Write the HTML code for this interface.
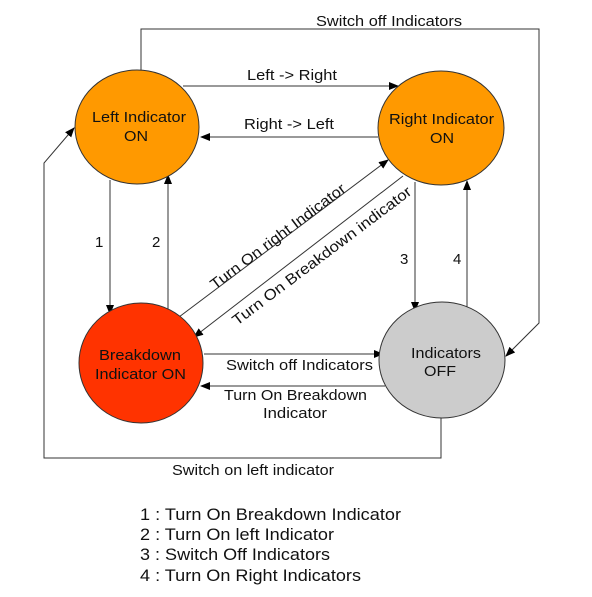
<!DOCTYPE html>
<html><head><style>body{margin:0;background:#fff}</style></head><body>
<svg width="592" height="592" xmlns="http://www.w3.org/2000/svg" font-family="Liberation Sans, sans-serif" fill="#111">
<defs><marker id="a" markerWidth="10" markerHeight="8" refX="9" refY="4" orient="auto" markerUnits="userSpaceOnUse"><path d="M0,0 L10,4 L0,8 Z" fill="#000"/></marker></defs>
<g stroke="#333" stroke-width="1" fill="none">
<polyline points="141,70 141,29 539,29 539,323 506,356" marker-end="url(#a)"/>
<line x1="183" y1="86" x2="398" y2="86" marker-end="url(#a)"/>
<line x1="378" y1="137" x2="201" y2="137" marker-end="url(#a)"/>
<line x1="110" y1="180" x2="110" y2="314" marker-end="url(#a)"/>
<line x1="168" y1="318" x2="168" y2="175" marker-end="url(#a)"/>
<line x1="415" y1="182" x2="415" y2="311" marker-end="url(#a)"/>
<line x1="467" y1="307" x2="467" y2="181" marker-end="url(#a)"/>
<line x1="179" y1="317" x2="388" y2="160" marker-end="url(#a)"/>
<line x1="403" y1="176" x2="194" y2="337" marker-end="url(#a)"/>
<line x1="204" y1="354" x2="383" y2="354" marker-end="url(#a)"/>
<line x1="385" y1="386" x2="201" y2="386" marker-end="url(#a)"/>
<polyline points="441,418 441,458 44,458 44,163 74,128" marker-end="url(#a)"/>
</g>
<ellipse cx="137" cy="127" rx="62" ry="57" fill="#ff9900" stroke="#333"/>
<ellipse cx="441" cy="128" rx="63" ry="57" fill="#ff9900" stroke="#333"/>
<ellipse cx="141" cy="363" rx="62" ry="60" fill="#ff3300" stroke="#333"/>
<ellipse cx="442" cy="360" rx="63" ry="58" fill="#cccccc" stroke="#333"/>
<g font-size="15">
<text x="92" y="122" textLength="94" lengthAdjust="spacingAndGlyphs">Left Indicator</text><text x="124" y="141" textLength="24" lengthAdjust="spacingAndGlyphs">ON</text>
<text x="389" y="124" textLength="105" lengthAdjust="spacingAndGlyphs">Right Indicator</text><text x="430" y="143" textLength="24" lengthAdjust="spacingAndGlyphs">ON</text>
<text x="99" y="360" textLength="82" lengthAdjust="spacingAndGlyphs">Breakdown</text><text x="95" y="379" textLength="91" lengthAdjust="spacingAndGlyphs">Indicator ON</text>
<text x="411" y="358" textLength="70" lengthAdjust="spacingAndGlyphs">Indicators</text><text x="424" y="376" textLength="32" lengthAdjust="spacingAndGlyphs">OFF</text>
<text x="316" y="26" textLength="146" lengthAdjust="spacingAndGlyphs">Switch off Indicators</text>
<text x="247" y="80" textLength="90" lengthAdjust="spacingAndGlyphs">Left -&gt; Right</text>
<text x="244" y="129" textLength="90" lengthAdjust="spacingAndGlyphs">Right -&gt; Left</text>
<text x="95" y="247">1</text><text x="152" y="247">2</text>
<text x="400" y="264">3</text><text x="453" y="264">4</text>
<text x="226" y="370" textLength="147" lengthAdjust="spacingAndGlyphs">Switch off Indicators</text>
<text x="224" y="400" textLength="143" lengthAdjust="spacingAndGlyphs">Turn On Breakdown</text><text x="263" y="418" textLength="64" lengthAdjust="spacingAndGlyphs">Indicator</text>
<text x="172" y="475" textLength="162" lengthAdjust="spacingAndGlyphs">Switch on left indicator</text>
<text transform="translate(215,290) rotate(-37)" textLength="165" lengthAdjust="spacingAndGlyphs">Turn On right Indicator</text>
<text transform="translate(237,326) rotate(-37)" textLength="220" lengthAdjust="spacingAndGlyphs">Turn On Breakdown indicator</text>
</g>
<g font-size="17">
<text x="140" y="520" textLength="261" lengthAdjust="spacingAndGlyphs">1 : Turn On Breakdown Indicator</text>
<text x="140" y="540" textLength="194" lengthAdjust="spacingAndGlyphs">2 : Turn On left Indicator</text>
<text x="140" y="560" textLength="190" lengthAdjust="spacingAndGlyphs">3 : Switch Off Indicators</text>
<text x="140" y="581" textLength="221" lengthAdjust="spacingAndGlyphs">4 : Turn On Right Indicators</text>
</g>
</svg>
</body></html>
